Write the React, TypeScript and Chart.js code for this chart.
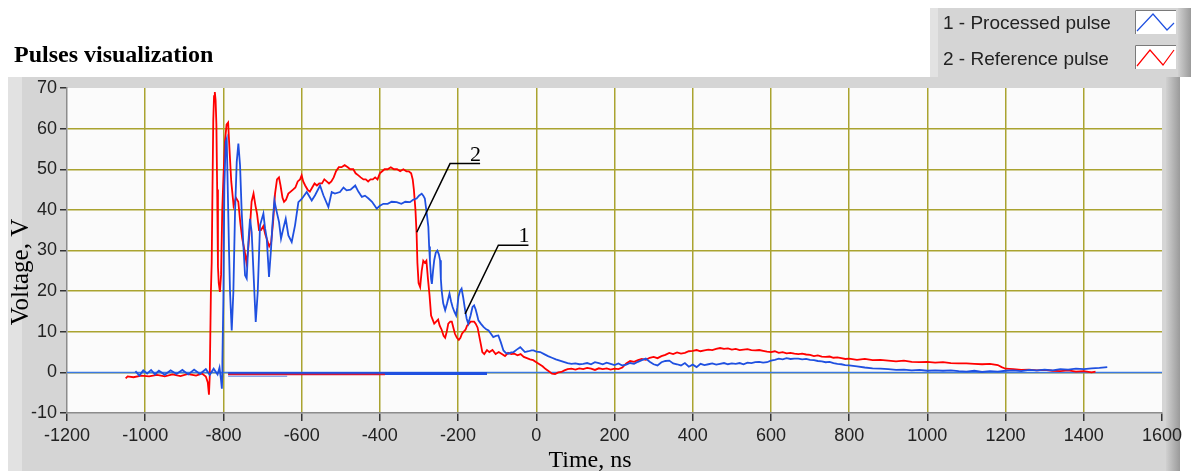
import React, { useEffect, useRef } from 'react';
import { Chart, registerables } from 'chart.js';

Chart.register(...registerables);

const W = 1191;
const H = 471;

const chartTitle = 'Pulses visualization';
const xAxisTitle = 'Time, ns';
const yAxisTitle = 'Voltage, V';
const legendLabels = ['1 - Processed pulse', '2 - Reference pulse'];

const xMin = -1200;
const xMax = 1600;
const xStep = 200;
const yMin = -10;
const yMax = 70;
const yStep = 10;

// [time ns, voltage V]
const referencePulse: [number, number][] = [
  [-1050, -1.5], [-1045, -1.0], [-1030, -1.2], [-1010, -0.8], [-990, -1.0], [-970, -0.6], [-950, -1.0],
  [-930, -0.5], [-910, -0.9], [-890, -0.4], [-870, -0.8], [-855, -0.3], [-845, -1.0], [-840, -2.5],
  [-837, -5.5], [-835, -1.0], [-832, 20], [-830, 27], [-828, 45], [-826, 62], [-824, 68], [-822, 69],
  [-820, 67], [-818, 61], [-816, 45], [-814, 26], [-812, 22], [-809, 19.8], [-806, 24], [-803, 40],
  [-800, 48], [-796, 57], [-792, 61], [-788, 61.5], [-784, 54], [-780, 47], [-774, 41], [-768, 43],
  [-762, 42], [-757, 37], [-752, 33], [-746, 30], [-741, 27], [-737, 30], [-732, 36], [-728, 42],
  [-723, 44], [-718, 41], [-714, 39], [-709, 35], [-704, 35], [-698, 36], [-693, 34], [-688, 32.5],
  [-683, 31], [-678, 32], [-673, 37], [-668, 44], [-663, 47.5], [-658, 48], [-654, 46], [-649, 43],
  [-645, 42], [-640, 42.5], [-634, 44], [-628, 44.5], [-622, 45], [-616, 45.5], [-610, 47], [-604, 47.5],
  [-600, 48.5], [-596, 47], [-591, 46], [-585, 45], [-579, 44.5], [-573, 45.5], [-567, 46.5], [-561, 46],
  [-555, 46.5], [-548, 46.5], [-542, 47.5], [-536, 47], [-530, 46.5], [-524, 47], [-518, 48], [-512, 49.5],
  [-505, 50.5], [-498, 50.5], [-490, 51], [-482, 50.5], [-476, 50], [-468, 50], [-462, 49], [-455, 48.5],
  [-449, 48], [-442, 47.5], [-436, 47.5], [-430, 47], [-424, 47.5], [-418, 47.5], [-412, 48], [-406, 47.5],
  [-400, 49], [-394, 49.5], [-388, 50], [-380, 50], [-372, 50.5], [-364, 50], [-356, 50], [-348, 49.5],
  [-340, 50], [-332, 49.5], [-326, 49.5], [-320, 49], [-316, 47.5], [-313, 45], [-309, 40], [-306, 34],
  [-304, 27], [-301, 22], [-297, 21], [-293, 25], [-289, 27.5], [-285, 27], [-281, 27.5], [-277, 23],
  [-273, 19], [-269, 14], [-265, 13], [-261, 12], [-256, 12.5], [-251, 13], [-247, 11.5], [-242, 10.5],
  [-237, 9], [-233, 8.5], [-229, 10], [-225, 12], [-220, 12.5], [-216, 12.5], [-212, 11], [-208, 9.5],
  [-203, 8.5], [-198, 8], [-194, 8.5], [-190, 9.5], [-186, 10], [-181, 10.5], [-177, 11.5], [-172, 12],
  [-168, 12.5], [-163, 12.5], [-159, 12.5], [-155, 12], [-150, 11], [-146, 9], [-142, 7], [-138, 5],
  [-133, 4.5], [-126, 5.5], [-120, 5], [-112, 5.5], [-104, 4.5], [-96, 5], [-88, 4.5], [-80, 4],
  [-72, 4.8], [-64, 4.5], [-56, 4.6], [-48, 4.2], [-40, 4.5], [-32, 3.8], [-24, 3.5], [-16, 3.2],
  [-8, 3.0], [0, 2.5], [8, 2], [16, 1.5], [24, 0.8], [32, 0.3], [40, -0.3], [48, -0.4], [56, 0],
  [64, 0.1], [72, 0.5], [80, 0.8], [90, 0.9], [100, 0.7], [110, 1], [120, 0.8], [130, 1.1], [140, 0.9],
  [150, 0.6], [160, 1], [170, 0.8], [180, 1], [190, 0.7], [200, 0.9], [210, 0.8], [220, 1.2], [230, 2.2],
  [240, 2.8], [250, 2.6], [260, 3], [270, 3.3], [280, 3.1], [290, 3.6], [300, 3.8], [310, 3.5], [320, 4],
  [330, 4.3], [340, 4.8], [350, 4.5], [360, 4.9], [370, 4.6], [380, 4.8], [390, 5.2], [400, 5.3],
  [410, 5.5], [420, 5.2], [430, 5.4], [440, 5.6], [450, 5.5], [460, 5.8], [470, 6], [480, 5.8], [490, 5.9],
  [500, 5.6], [510, 5.8], [520, 5.5], [530, 5.6], [540, 5.7], [550, 5.5], [560, 5.4], [570, 5.5],
  [580, 5.3], [590, 5.1], [600, 5.0], [610, 5.2], [620, 4.8], [630, 5.0], [640, 4.7], [650, 4.8],
  [660, 4.6], [670, 4.5], [680, 4.6], [690, 4.4], [700, 4.3], [710, 4.0], [720, 4.2], [730, 3.9],
  [740, 3.8], [750, 3.9], [760, 3.6], [770, 3.7], [780, 3.5], [790, 3.3], [800, 3.4], [820, 3.1],
  [840, 3.3], [860, 3.0], [880, 3.1], [900, 2.9], [920, 2.7], [940, 2.9], [960, 2.6], [980, 2.5],
  [1000, 2.6], [1020, 2.4], [1040, 2.5], [1060, 2.3], [1080, 2.2], [1100, 2.2], [1120, 2.1], [1140, 2.0],
  [1160, 2.1], [1180, 1.8], [1190, 1.3], [1200, 0.9], [1220, 0.8], [1240, 0.6], [1260, 0.7], [1280, 0.5],
  [1300, 0.6], [1320, 0.4], [1340, 0.3], [1360, 0.5], [1380, 0.2], [1400, 0.3], [1420, 0.0], [1430, 0.2],
];

const processedPulse: [number, number][] = [
  [-1025, 0.3], [-1015, -0.8], [-1005, 0.5], [-995, -0.3], [-985, 0.6], [-975, -0.5], [-965, 0.4],
  [-950, -0.6], [-935, 0.5], [-920, -0.4], [-905, 0.6], [-890, -0.5], [-875, 0.7], [-860, -0.4],
  [-845, 0.8], [-835, -0.6], [-825, 0.9], [-815, -0.5], [-810, 1.2], [-806, -2], [-804, -4], [-803, -1],
  [-802.7, 2.6], [-800.1, 18.2], [-797.6, 46], [-794.2, 56.7], [-791.6, 57.5], [-789.1, 46], [-785.6, 29.6],
  [-783.1, 19.8], [-778.8, 10.3], [-774.6, 19.8], [-770.3, 39.5], [-766, 51.8], [-761.8, 56.3], [-757.5, 51],
  [-753.3, 39.5], [-749, 31.3], [-744.7, 23.9], [-740.5, 23.1], [-736.2, 32.1], [-732, 37.8], [-727.7, 34.5],
  [-720.9, 19.8], [-717.4, 12.4], [-712.3, 19.8], [-706.4, 36.2], [-697.8, 39.1], [-693.6, 35.5],
  [-689.3, 33], [-683.4, 23.5], [-678.2, 30.5], [-674.8, 36.2], [-669.7, 42.3], [-663.7, 39.5],
  [-657.8, 37], [-652.7, 32.9], [-646.7, 35.5], [-640.7, 37.8], [-633.9, 33.7], [-625.4, 32.1],
  [-616.9, 36.2], [-608.3, 41.9], [-599.8, 42.7], [-587, 44.4], [-574.2, 42.3], [-565.7, 43.6],
  [-552.9, 46], [-544.4, 43.6], [-531.6, 40.7], [-523.1, 44.4], [-515, 44], [-502, 44.4], [-493, 45.5],
  [-485, 44.8], [-475, 45], [-463, 46], [-455, 44.5], [-446, 43.2], [-438, 43.5], [-429, 42.8], [-420, 42],
  [-413, 41], [-408, 40.3], [-400, 41], [-391, 41.5], [-380, 41.5], [-370, 42], [-357, 41.9], [-345, 41.5],
  [-335, 42], [-323, 41.9], [-315, 42.5], [-306, 42.8], [-300, 43.5], [-293, 44], [-289, 43.5],
  [-285, 42.8], [-280, 39], [-276, 35.8], [-274, 31], [-272, 27.6], [-269, 23], [-267, 21.8], [-264, 25],
  [-261, 27.6], [-257, 29.5], [-253, 30], [-249, 29], [-246, 27.6], [-244, 23], [-242, 20.2], [-238, 17],
  [-233, 15.3], [-228, 17], [-222, 19.4], [-218, 17.5], [-214, 16.1], [-209, 14.8], [-205, 14], [-202, 16],
  [-199, 18.6], [-195, 20], [-191, 20.6], [-187, 18.5], [-182, 15.3], [-178, 13.2], [-174, 12], [-168, 14],
  [-163, 16.1], [-159, 16.5], [-155, 15.5], [-151, 14], [-148, 12.8], [-142, 12], [-135, 11.2],
  [-128, 10.6], [-122, 10.3], [-116, 9.5], [-110, 8.7], [-103, 9], [-97, 9.1], [-91, 7.5], [-84, 5.4],
  [-78, 4.8], [-71, 4.6], [-64, 4.9], [-58, 5], [-50, 5.6], [-41, 6.2], [-35, 5.6], [-29, 5], [-20, 5.2],
  [-12, 5.4], [-7, 5.4], [0, 5.1], [10, 5], [20, 4.5], [30, 4], [40, 3.6], [50, 3.2], [60, 2.9], [70, 2.6],
  [80, 2.3], [90, 2.1], [100, 2.2], [110, 2.0], [120, 2.1], [130, 2.3], [140, 2.0], [150, 2.5], [160, 2.3],
  [170, 2.0], [180, 2.4], [190, 2.1], [200, 1.8], [210, 2.2], [220, 1.7], [230, 1.9], [240, 2.3], [250, 2.1],
  [260, 2.6], [270, 3.0], [280, 3.4], [290, 2.6], [300, 2.0], [310, 1.7], [320, 2.5], [330, 2.8], [340, 2.9],
  [350, 2.2], [360, 2.0], [370, 1.7], [380, 2.3], [390, 1.4], [400, 1.9], [410, 1.3], [420, 2.1], [430, 1.8],
  [440, 2.0], [450, 2.2], [460, 1.9], [470, 2.1], [480, 2.3], [490, 2.0], [500, 2.2], [510, 2.1], [520, 2.3],
  [530, 2.0], [540, 2.4], [550, 2.3], [560, 2.5], [570, 2.6], [580, 2.4], [590, 2.5], [600, 2.9], [610, 3.1],
  [620, 3.4], [630, 3.2], [640, 3.5], [650, 3.3], [660, 3.4], [670, 3.4], [680, 3.2], [690, 3.3], [700, 3.1],
  [710, 3.0], [720, 2.8], [730, 2.7], [740, 2.5], [750, 2.6], [760, 2.3], [770, 2.1], [780, 2.0], [790, 1.8],
  [800, 1.7], [820, 1.5], [840, 1.2], [860, 1.0], [880, 0.9], [900, 0.8], [920, 0.6], [940, 0.7], [960, 0.5],
  [980, 0.6], [1000, 0.4], [1020, 0.5], [1040, 0.4], [1060, 0.5], [1080, 0.3], [1100, 0.2], [1120, 0.4],
  [1140, 0.1], [1160, 0.3], [1180, 0.2], [1200, 0.4], [1220, 0.5], [1240, 0.3], [1260, 0.6], [1280, 0.5],
  [1300, 0.7], [1320, 0.5], [1340, 0.8], [1360, 0.7], [1380, 0.9], [1400, 0.8], [1420, 1.0], [1440, 1.1],
  [1460, 1.3],
];

// flat traces near zero
const zeroLine: [number, number][] = [[-1200, 0], [1600, 0]];
const blueFlatTrace: [number, number][] = [[-788, -0.3], [-126, -0.3]];
const blueThinTrace: [number, number][] = [[-788, -0.95], [-637, -0.95]];
const redFlatTrace: [number, number][] = [[-788, -0.55], [-387, -0.55]];

// callouts: label, leader line points (time, voltage)
const callouts: { label: string; path: [number, number][] }[] = [
  { label: '2', path: [[-305.6, 34.5], [-220.5, 51.4], [-143.7, 51.4]] },
  { label: '1', path: [[-182, 14.4], [-97, 31.3], [-20, 31.3]] },
];

const RED = '#ff0000';
const BLUE = '#1f50e0';
const ZERO_BLUE = '#3a78e2';
const GRID = '#aaa330';

const toXY = (arr: [number, number][]) => arr.map(([x, y]) => ({ x, y }));

const decorPlugin = {
  id: 'decor',
  beforeDraw(chart: any) {
    const c = chart.ctx as CanvasRenderingContext2D;
    const { left, top, right, bottom } = chart.chartArea;
    c.save();
    c.fillStyle = '#ffffff';
    c.fillRect(0, 0, W, H);
    // main panel
    c.fillStyle = '#d5d5d5';
    c.fillRect(8, 77, 1172, 394);
    c.fillStyle = '#e2e2e2';
    c.fillRect(8, 77, 14, 394);
    const g = c.createLinearGradient(1166, 0, 1180, 0);
    g.addColorStop(0, '#d0d0d0');
    g.addColorStop(1, '#9a9a9a');
    c.fillStyle = g;
    c.fillRect(1166, 77, 14, 394);
    // legend box
    c.fillStyle = '#d5d5d5';
    c.fillRect(930, 8, 252, 69);
    c.fillStyle = '#e2e2e2';
    c.fillRect(930, 8, 8, 69);
    const g2 = c.createLinearGradient(1178, 0, 1191, 0);
    g2.addColorStop(0, '#d0d0d0');
    g2.addColorStop(1, '#9a9a9a');
    c.fillStyle = g2;
    c.fillRect(1178, 8, 13, 69);
    // plot background
    c.fillStyle = '#fbfbfb';
    c.fillRect(left, top, right - left, bottom - top);
    c.restore();
  },
  afterDraw(chart: any) {
    const c = chart.ctx as CanvasRenderingContext2D;
    const xs = chart.scales.x;
    const ys = chart.scales.y;
    c.save();
    // title
    c.fillStyle = '#000';
    c.font = 'bold 24px "Liberation Serif"';
    c.textAlign = 'left';
    c.textBaseline = 'alphabetic';
    c.fillText(chartTitle, 14, 62);
    // legend
    c.font = '19px "Liberation Sans"';
    c.fillStyle = '#222';
    c.fillText(legendLabels[0], 943, 29);
    c.fillText(legendLabels[1], 943, 65);
    const icons = [
      { y: 10, color: BLUE, pts: [[1137, 31], [1153, 14], [1167, 30], [1174, 23]] },
      { y: 45, color: RED, pts: [[1137, 66], [1150, 50], [1163, 65], [1174, 50]] },
    ];
    icons.forEach((ic) => {
      c.fillStyle = '#ffffff';
      c.fillRect(1135, ic.y, 41, 24);
      c.strokeStyle = '#7a7a7a';
      c.lineWidth = 1;
      c.beginPath();
      c.moveTo(1135.5, ic.y + 24);
      c.lineTo(1135.5, ic.y + 0.5);
      c.lineTo(1176, ic.y + 0.5);
      c.stroke();
      c.strokeStyle = ic.color;
      c.lineWidth = 1.2;
      c.beginPath();
      ic.pts.forEach(([px, py], i) => (i === 0 ? c.moveTo(px, py) : c.lineTo(px, py)));
      c.stroke();
    });
    // axis titles
    c.fillStyle = '#000';
    c.font = '24px "Liberation Serif"';
    c.textAlign = 'center';
    c.fillText(xAxisTitle, 590, 467);
    c.save();
    c.translate(28, 272);
    c.rotate(-Math.PI / 2);
    c.font = '25px "Liberation Serif"';
    c.fillText(yAxisTitle, 0, 0);
    c.restore();
    // callouts
    c.strokeStyle = '#000';
    c.lineWidth = 1.5;
    c.font = '22px "Liberation Serif"';
    c.textAlign = 'center';
    c.textBaseline = 'alphabetic';
    callouts.forEach((co) => {
      c.beginPath();
      co.path.forEach(([t, v], i) => {
        const px = xs.getPixelForValue(t);
        const py = ys.getPixelForValue(v);
        if (i === 0) c.moveTo(px, py);
        else c.lineTo(px, py);
      });
      c.stroke();
      const [lt, lv] = co.path[co.path.length - 1];
      const [pt] = co.path[co.path.length - 2];
      const cx = xs.getPixelForValue(lt) - (xs.getPixelForValue(lt) - xs.getPixelForValue(pt)) * 0.15;
      c.fillText(co.label, cx, ys.getPixelForValue(lv) - 3);
    });
    c.restore();
  },
};

export default function App() {
  const ref = useRef<HTMLCanvasElement | null>(null);
  useEffect(() => {
    if (!ref.current) return;
    const edgeX = (ctx: any) =>
      ctx.tick && (ctx.tick.value === xMin || ctx.tick.value === xMax) ? 'rgba(0,0,0,0)' : GRID;
    const edgeY = (ctx: any) =>
      ctx.tick && (ctx.tick.value === yMin || ctx.tick.value === yMax) ? 'rgba(0,0,0,0)' : GRID;
    const tickFont = { family: '"Liberation Sans"', size: 18 };
    const chart = new Chart(ref.current, {
      type: 'line',
      data: {
        datasets: [
          { data: toXY(zeroLine), borderColor: ZERO_BLUE, borderWidth: 1.5, order: 6 },
          { data: toXY(referencePulse), borderColor: RED, borderWidth: 1.8, order: 5 },
          { data: toXY(processedPulse), borderColor: BLUE, borderWidth: 1.8, order: 4 },
          { data: toXY(blueThinTrace), borderColor: '#5d88e6', borderWidth: 1, order: 3 },
          { data: toXY(blueFlatTrace), borderColor: BLUE, borderWidth: 3, order: 2 },
          { data: toXY(redFlatTrace), borderColor: '#d0183a', borderWidth: 1.5, order: 1 },
        ] as any,
      },
      options: {
        animation: false,
        responsive: false,
        devicePixelRatio: 1,
        parsing: false as any,
        layout: { padding: { left: 0, top: 88, right: 29, bottom: 0 } },
        elements: { point: { radius: 0 }, line: { tension: 0 } },
        plugins: { legend: { display: false }, tooltip: { enabled: false }, title: { display: false } },
        scales: {
          x: {
            type: 'linear',
            min: xMin,
            max: xMax,
            afterFit: (s: any) => {
              s.height = 58;
            },
            ticks: {
              stepSize: xStep,
              autoSkip: false,
              maxRotation: 0,
              color: '#222',
              font: tickFont,
              padding: 4,
              callback: (v: any) => String(v),
            },
            grid: { color: edgeX, lineWidth: 1.5, tickColor: '#333', tickLength: 8 },
            border: { color: '#8c8c8c', width: 1.5 },
          },
          y: {
            type: 'linear',
            min: yMin,
            max: yMax,
            afterFit: (s: any) => {
              s.width = 67;
            },
            ticks: {
              stepSize: yStep,
              color: '#222',
              font: tickFont,
              padding: 3,
              callback: (v: any) => String(v),
            },
            grid: { color: edgeY, lineWidth: 1.5, tickColor: '#333', tickLength: 7 },
            border: { color: '#8c8c8c', width: 1.5 },
          },
        },
      } as any,
      plugins: [decorPlugin],
    });
    return () => chart.destroy();
  }, []);
  return (
    <div style={{ position: 'absolute', left: 0, top: 0, width: W, height: H }}>
      <canvas ref={ref} width={W} height={H} style={{ width: W, height: H, display: 'block' }} />
    </div>
  );
}
